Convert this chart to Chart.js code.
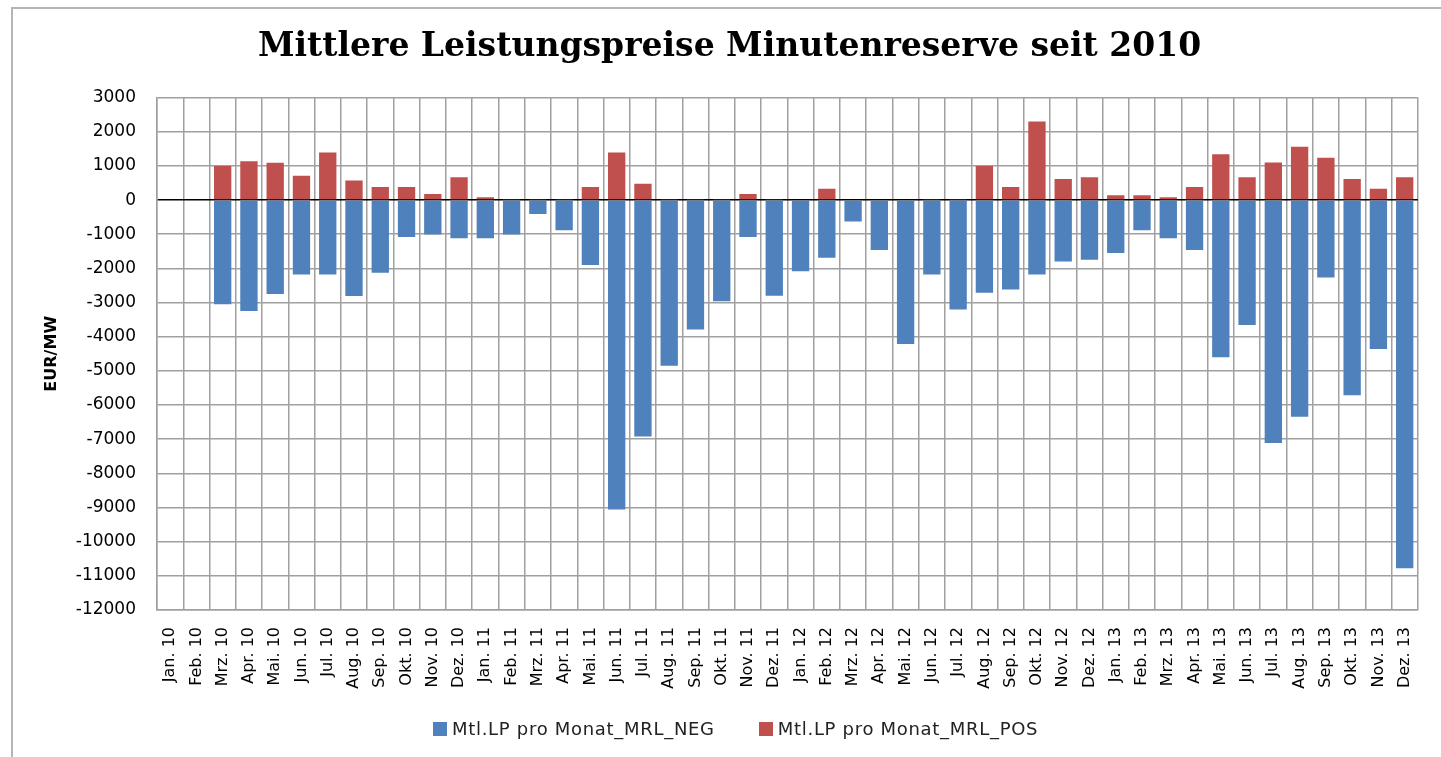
<!DOCTYPE html>
<html lang="de">
<head>
  <meta charset="UTF-8" />
  <title>Mittlere Leistungspreise Minutenreserve seit 2010</title>
  <script src="https://cdn.jsdelivr.net/npm/chart.js"></script>
  <style>
    html, body { margin: 0; padding: 0; background: white; overflow: hidden; }
    .frame { position: absolute; left: 11px; top: 7px; width: 1440px; height: 760px; border: 2px solid #b5b5b5; }
    .wrap { position: absolute; left: 0; top: 0; width: 1441px; height: 757px; }
    #legend {
      position: absolute; left: 433px; top: 718px; display: flex; gap: 44px;
      font-family: 'DejaVu Sans', sans-serif; font-size: 18px; letter-spacing: 0.7px; color: #222;
    }
    #legend .item { display: flex; align-items: center; white-space: nowrap; }
    #legend .box { width: 14px; height: 14px; margin-right: 5px; display: inline-block; }
  </style>
</head>
<body>
  <div class="frame"></div>
  <div class="wrap"><canvas id="chart"></canvas></div>
  <div id="legend"></div>

  <script>
    const labels = [
      'Jan. 10', 'Feb. 10', 'Mrz. 10', 'Apr. 10', 'Mai. 10', 'Jun. 10', 'Jul. 10', 'Aug. 10', 'Sep. 10', 'Okt. 10', 'Nov. 10', 'Dez. 10',
      'Jan. 11', 'Feb. 11', 'Mrz. 11', 'Apr. 11', 'Mai. 11', 'Jun. 11', 'Jul. 11', 'Aug. 11', 'Sep. 11', 'Okt. 11', 'Nov. 11', 'Dez. 11',
      'Jan. 12', 'Feb. 12', 'Mrz. 12', 'Apr. 12', 'Mai. 12', 'Jun. 12', 'Jul. 12', 'Aug. 12', 'Sep. 12', 'Okt. 12', 'Nov. 12', 'Dez. 12',
      'Jan. 13', 'Feb. 13', 'Mrz. 13', 'Apr. 13', 'Mai. 13', 'Jun. 13', 'Jul. 13', 'Aug. 13', 'Sep. 13', 'Okt. 13', 'Nov. 13', 'Dez. 13'
    ];

    // Mtl.LP pro Monat_MRL_NEG (EUR/MW)
    const negValues = [
      null, null, -3050, -3250, -2750, -2180, -2180, -2810, -2130, -1080, -1010, -1120,
      -1120, -1010, -410, -880, -1900, -9060, -6920, -4850, -3790, -2960, -1080, -2800,
      -2080, -1690, -630, -1460, -4210, -2180, -3200, -2710, -2620, -2180, -1800, -1750,
      -1550, -880, -1120, -1460, -4600, -3660, -7110, -6340, -2270, -5710, -4360, -10780
    ];

    // Mtl.LP pro Monat_MRL_POS (EUR/MW)
    const posValues = [
      null, null, 1000, 1140, 1090, 710, 1390, 570, 380, 380, 180, 670,
      80, 30, 30, 30, 380, 1390, 480, 30, 30, 30, 180, 30,
      0, 330, 0, 0, 0, 30, 30, 1000, 380, 2300, 620, 670,
      140, 140, 80, 380, 1340, 670, 1100, 1560, 1240, 620, 330, 670
    ];

    const yTicks = { min: -12000, max: 3000, step: 1000 };

    const ctx = document.getElementById('chart').getContext('2d');

    const chart = new Chart(ctx, {
      type: 'bar',
      data: {
        labels: labels,
        datasets: [
          {
            label: 'Mtl.LP pro Monat_MRL_NEG',
            data: negValues,
            backgroundColor: '#4F81BD',
            barPercentage: 0.66,
            categoryPercentage: 1
          },
          {
            label: 'Mtl.LP pro Monat_MRL_POS',
            data: posValues,
            backgroundColor: '#C0504D',
            barPercentage: 0.66,
            categoryPercentage: 1
          }
        ]
      },
      options: {
        responsive: true,
        maintainAspectRatio: false,
        animation: false,
        layout: { padding: { left: 30, right: 12, top: 0, bottom: 47 } },
        plugins: {
          title: {
            display: true,
            text: 'Mittlere Leistungspreise Minutenreserve seit 2010',
            color: '#000',
            font: { family: 'DejaVu Serif', size: 33, weight: 'bold' },
            padding: { top: 28, bottom: 30 }
          },
          legend: { display: false },
          tooltip: { enabled: false }
        },
        scales: {
          x: {
            stacked: true,
            grid: { color: '#a0a0a0', lineWidth: 1.5, drawTicks: false },
            border: { color: '#a0a0a0', width: 1.5 },
            ticks: {
              color: '#000',
              font: { family: 'DejaVu Sans', size: 16 },
              autoSkip: false,
              minRotation: 90,
              maxRotation: 90,
              padding: 17
            },
            afterFit: (scale) => { scale.height = 100; }
          },
          y: {
            stacked: true,
            min: yTicks.min,
            max: yTicks.max,
            grid: {
              color: (c) => c.tick && c.tick.value === 0 ? '#000' : '#a0a0a0',
              lineWidth: 1.5,
              drawTicks: false
            },
            border: { color: '#a0a0a0', width: 1.5 },
            ticks: {
              stepSize: yTicks.step,
              color: '#000',
              font: { family: 'DejaVu Sans', size: 17 },
              padding: 21,
              callback: (v) => String(v)
            },
            title: {
              display: true,
              text: 'EUR/MW',
              color: '#000',
              font: { family: 'DejaVu Sans', size: 16, weight: 'bold' },
              padding: { top: 12, bottom: 0 }
            },
            afterFit: (scale) => { scale.width = 127; }
          }
        }
      }
    });

    // legend in HTML, built from the datasets
    const legend = document.getElementById('legend');
    chart.data.datasets.forEach(ds => {
      const item = document.createElement('div');
      item.className = 'item';
      const box = document.createElement('span');
      box.className = 'box';
      box.style.background = ds.backgroundColor;
      item.appendChild(box);
      item.appendChild(document.createTextNode(ds.label));
      legend.appendChild(item);
    });
  </script>
</body>
</html>
